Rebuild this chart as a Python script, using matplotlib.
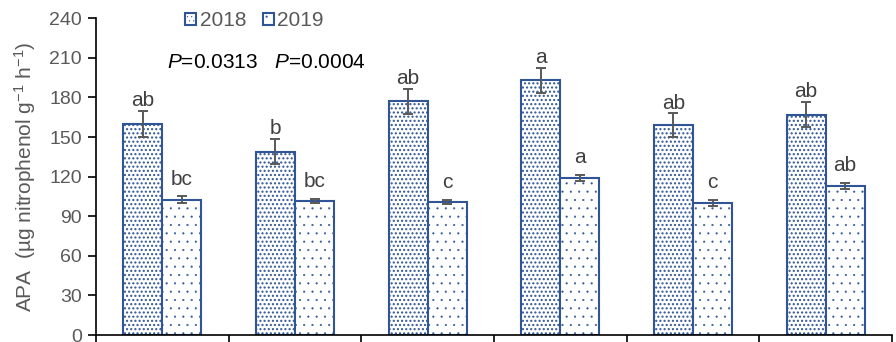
import matplotlib
matplotlib.use("Agg")
import matplotlib.pyplot as plt
import numpy as np

# ---- data ----
categories = ["T1", "T2", "T3", "T4", "T5", "T6"]
years = ["2018", "2019"]
apa_2018 = [160, 139, 177, 193, 159, 167]
err_2018 = [10, 9.5, 9.5, 9.5, 9, 9.5]
apa_2019 = [102.5, 101.5, 101, 119, 100, 113]
err_2019 = [2.5, 1.5, 1.5, 2.5, 2.5, 2.5]
letters_2018 = ["ab", "b", "ab", "a", "ab", "ab"]
letters_2019 = ["bc", "bc", "c", "a", "c", "ab"]
y_ticks = [0, 30, 60, 90, 120, 150, 180, 210, 240]
p_text = "$P$=0.0313   $P$=0.0004"

# ---- style ----
plt.rcParams["font.family"] = ["Liberation Sans", "DejaVu Sans"]
plt.rcParams["mathtext.fontset"] = "custom"
plt.rcParams["mathtext.rm"] = "Liberation Sans"
plt.rcParams["mathtext.it"] = "Liberation Sans:italic"
plt.rcParams["mathtext.bf"] = "Liberation Sans:bold"

blue = "#2F5597"
grey = "#595959"
dark = "#404040"

fig = plt.figure(figsize=(8.96, 3.42), dpi=100)
ax = fig.add_axes([96 / 896, 7 / 342, (892 - 96) / 896, (335 - 18.3) / 342])

x = np.arange(len(categories))
w = 0.294
plt.rcParams["hatch.linewidth"] = 1.0
b1 = ax.bar(x - w / 2, apa_2018, w, facecolor="white", edgecolor=blue,
            hatch="....", linewidth=1.5, label=years[0], zorder=2)
plt.rcParams["hatch.linewidth"] = 0.3
b2 = ax.bar(x + w / 2, apa_2019, w, facecolor="white", edgecolor=blue,
            hatch="..", linewidth=1.5, label=years[1], zorder=2)
for p in b1:
    try:
        p.set_hatch_linewidth(1.0)
    except AttributeError:
        pass
for p in b2:
    try:
        p.set_hatch_linewidth(0.3)
    except AttributeError:
        pass

ax.errorbar(x - w / 2, apa_2018, yerr=err_2018, fmt="none", ecolor=grey,
            elinewidth=1.4, capsize=3.5, capthick=1.4, zorder=3)
ax.errorbar(x + w / 2, apa_2019, yerr=err_2019, fmt="none", ecolor=grey,
            elinewidth=1.4, capsize=3.5, capthick=1.4, zorder=3)

for xi, v, e, t in zip(x - w / 2, apa_2018, err_2018, letters_2018):
    ax.text(xi, v + e + 0.5, t, ha="center", va="bottom", fontsize=15, color=dark)
for xi, v, e, t in zip(x + w / 2, apa_2019, err_2019, letters_2019):
    ax.text(xi, v + e + 6, t, ha="center", va="bottom", fontsize=15, color=dark)

ax.set_xlim(-0.5, len(categories) - 0.5)
ax.set_ylim(0, 240)
ax.set_yticks(y_ticks)
ax.set_xticks(np.arange(len(categories) + 1) - 0.5)
ax.set_xticklabels([])
ax.tick_params(axis="y", direction="out", length=6, width=1.2, labelsize=14,
               labelcolor=grey, pad=4)
ax.tick_params(axis="x", direction="out", length=8, width=1.2)
for s in ["top", "right"]:
    ax.spines[s].set_visible(False)
for s in ["left", "bottom"]:
    ax.spines[s].set_linewidth(1.2)
    ax.spines[s].set_color("black")

ax.set_ylabel("APA  (µg nitrophenol g$^{\\mathrm{-1}}$ h$^{\\mathrm{-1}}$)",
              fontsize=15, color=grey, labelpad=8)

fig.legend(handles=[b1, b2], labels=years, loc="center left",
           bbox_to_anchor=(185 / 896, 1 - 21 / 342), ncol=2, frameon=False,
           fontsize=15, labelcolor=grey, handlelength=0.55, handleheight=0.55,
           handletextpad=0.15, columnspacing=0.8, borderpad=0, borderaxespad=0)

fig.text(167 / 896, 1 - 62 / 342, p_text, fontsize=15, color="black",
         ha="left", va="center")

fig.savefig("out.png", dpi=100)
